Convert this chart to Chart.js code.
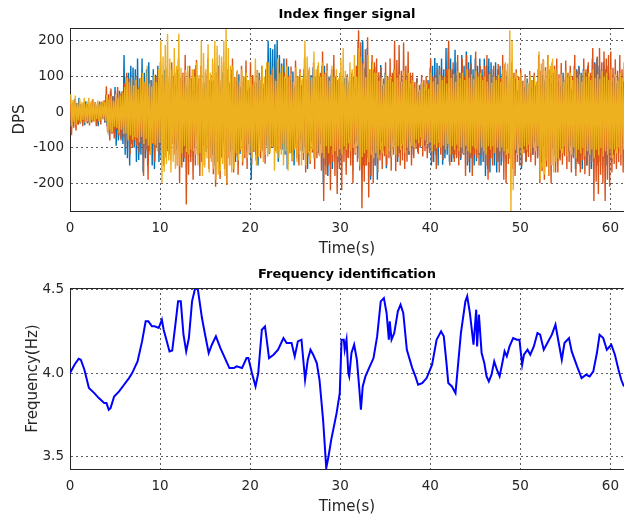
<!DOCTYPE html>
<html>
<head>
<meta charset="utf-8">
<script src="https://cdn.jsdelivr.net/npm/chart.js@4/dist/chart.umd.min.js"></script>
<style>
  html, body { margin: 0; padding: 0; background: #fff; overflow: hidden; }
  #wrap { position: relative; width: 628px; height: 521px; }
  #topBox { position: absolute; left: 0; top: 0; width: 628px; height: 260px; }
  #bottomBox { position: absolute; left: 0; top: 260px; width: 628px; height: 261px; }
</style>
</head>
<body>
<div id="wrap">
  <div id="topBox"><canvas id="signalChart"></canvas></div>
  <div id="bottomBox"><canvas id="freqChart"></canvas></div>
</div>
<script>
// --- data ---
// gyro signal samples, one every 0.125 s (peaks of each swing)
const sampleStep = 0.125;
// the three channels are sampled slightly out of step
const blueStart = 0;
const orangeStart = 0.04;
const yellowStart = 0.08;

const blueSignal = [
  28, -42, 20, -30, 36, -20, 25, -34, 40, -33, 22, -26, 18, -37, 30, -24,
  22, -30, 16, -26, 34, -26, 20, -18, 15, -40, 26, -22, 28, -18, 24, -30,
  48, -40, 35, -66, 60, -35, 44, -58, 70, -95, 38, -80, 60, -74, 55, -90,
  160, -120, 100, -130, 110, -150, 130, -90, 125, -100, 120, -140, 150, -135, 95, -120,
  150, -170, 110, -130, 120, -150, 140, -110, 90, -150, 120, -160, 105, -100, 130, -140,
  95, -130, 70, -90, 118, -64, 85, -110, 78, -120, 60, -80, 102, -90, 75, -105,
  120, -84, 66, -110, 90, -140, 98, -102, 70, -85, 74, -125, 95, -70, 60, -100,
  132, -66, 80, -110, 104, -140, 65, -95, 80, -112, 100, -70, 56, -96, 85, -120,
  90, -150, 110, -78, 130, -95, 70, -128, 112, -85, 64, -102, 95, -75, 80, -110,
  120, -90, 72, -140, 85, -105, 106, -118, 70, -80, 84, -72, 95, -110, 60, -90,
  68, -190, 100, -96, 75, -120, 82, -150, 110, -70, 90, -100, 65, -85, 120, -95,
  200, -118, 180, -90, 176, -98, 190, -110, 202, -140, 160, -85, 136, -106, 150, -120,
  96, -160, 128, -74, 90, -115, 114, -150, 70, -100, 85, -122, 105, -80, 75, -110,
  120, -100, 88, -160, 70, -110, 104, -82, 126, -130, 95, -75, 80, -115, 100, -90,
  130, -200, 130, -150, 110, -180, 100, -146, 104, -160, 120, -110, 100, -125, 90, -140,
  110, -140, 72, -104, 95, -80, 96, -128, 84, -76, 70, -110, 100, -90, 65, -85,
  198, -130, 150, -120, 200, -150, 124, -150, 180, -130, 110, -190, 140, -110, 120, -150,
  128, -190, 96, -120, 132, -84, 75, -110, 110, -158, 90, -100, 70, -125, 95, -80,
  120, -96, 74, -140, 108, -116, 85, -90, 92, -80, 70, -105, 100, -120, 65, -85,
  100, -120, 66, -88, 94, -112, 58, -100, 80, -75, 70, -95, 60, -85, 90, -100,
  124, -150, 130, -140, 152, -120, 138, -150, 130, -100, 150, -148, 120, -130, 180, -120,
  180, -140, 150, -140, 120, -130, 175, -120, 140, -126, 110, -135, 160, -115, 130, -120,
  170, -150, 140, -170, 160, -130, 120, -150, 150, -138, 130, -120, 150, -150, 120, -140,
  150, -180, 130, -160, 150, -170, 140, -130, 120, -150, 140, -170, 120, -140, 130, -150,
  108, -140, 84, -116, 100, -96, 76, -132, 90, -80, 70, -105, 95, -115, 60, -90,
  98, -160, 86, -104, 70, -140, 94, -112, 80, -90, 65, -120, 100, -85, 75, -95,
  120, -124, 78, -140, 104, -96, 88, -130, 70, -85, 95, -110, 80, -100, 110, -120,
  118, -96, 84, -130, 72, -104, 110, -118, 90, -80, 75, -110, 100, -95, 65, -125,
  130, -160, 120, -140, 130, -150, 110, -160, 120, -130, 110, -150, 130, -120, 100, -160,
  150, -160, 140, -130, 150, -150, 130, -140, 120, -150, 140, -130, 120, -150, 130, -120,
  110, -140, 86, -120, 96, -108, 80, -95, 100, -115, 70, -90, 85
];

const orangeSignal = [
  38, -65, 26, -44, 34, -52, 20, -36, 30, -28, 22, -40, 26, -30, 18, -32,
  30, -38, 24, -30, 36, -24, 28, -40, 22, -26, 30, -35, 25, -20, 33, -28,
  72, -56, 50, -80, 66, -62, 44, -74, 60, -48, 70, -66, 52, -80, 58, -70,
  80, -100, 110, -70, 95, -120, 75, -100, 90, -80, 100, -95, 70, -115, 85, -90,
  100, -180, 80, -110, 95, -190, 70, -120, 90, -90, 80, -140, 100, -100, 75, -120,
  140, -112, 104, -150, 86, -128, 122, -98, 100, -135, 140, -90, 80, -120, 110, -150,
  150, -200, 96, -156, 110, -130, 160, -260, 112, -176, 130, -140, 90, -190, 120, -150,
  146, -120, 94, -180, 130, -140, 82, -150, 110, -100, 150, -160, 90, -130, 105, -175,
  136, -210, 104, -140, 126, -188, 90, -128, 140, -160, 100, -205, 120, -130, 85, -150,
  150, -170, 98, -124, 114, -176, 80, -110, 130, -150, 100, -130, 145, -160, 90, -120,
  140, -148, 104, -112, 86, -136, 118, -92, 100, -130, 130, -110, 80, -145, 120, -100,
  130, -110, 100, -98, 120, -100, 94, -84, 140, -110, 100, -105, 120, -90, 110, -100,
  150, -148, 102, -116, 128, -138, 84, -104, 145, -130, 100, -150, 120, -110, 90, -135,
  150, -170, 94, -124, 118, -146, 88, -114, 140, -160, 100, -130, 130, -120, 110, -165,
  170, -250, 110, -176, 136, -150, 96, -220, 120, -140, 160, -180, 100, -230, 90, -160,
  100, -220, 84, -140, 76, -176, 106, -130, 90, -150, 110, -200, 80, -120, 130, -140,
  230, -164, 196, -270, 140, -196, 176, -150, 210, -240, 120, -180, 160, -200, 140, -150,
  150, -170, 112, -136, 126, -160, 94, -124, 140, -150, 100, -130, 150, -165, 110, -120,
  200, -166, 146, -126, 188, -150, 116, -136, 195, -160, 130, -140, 170, -120, 110, -150,
  110, -130, 84, -104, 96, -118, 76, -96, 105, -125, 90, -110, 100, -130, 80, -115,
  150, -140, 100, -110, 104, -160, 120, -100, 125, -120, 100, -135, 90, -115, 120, -100,
  200, -150, 120, -120, 140, -140, 110, -130, 160, -150, 110, -130, 150, -120, 100, -180,
  160, -140, 120, -130, 136, -180, 100, -120, 170, -130, 110, -150, 130, -120, 100, -140,
  130, -150, 160, -190, 110, -130, 120, -150, 130, -115, 100, -140, 135, -170, 95, -130,
  160, -190, 134, -200, 116, -146, 96, -126, 140, -160, 110, -180, 120, -140, 100, -150,
  120, -150, 88, -116, 106, -138, 78, -126, 115, -140, 90, -120, 110, -150, 85, -130,
  160, -200, 116, -166, 148, -190, 126, -154, 160, -180, 120, -200, 140, -150, 130, -170,
  150, -170, 106, -136, 138, -148, 98, -124, 145, -160, 110, -140, 130, -170, 100, -130,
  160, -180, 116, -146, 126, -170, 108, -136, 150, -175, 120, -150, 140, -180, 110, -140,
  180, -250, 136, -196, 156, -230, 180, -176, 140, -200, 170, -250, 150, -190, 160, -210,
  170, -170, 124, -146, 148, -160, 116, -140, 160, -150, 120, -170, 140
];

const yellowSignal = [
  50, -40, 34, -28, 46, -36, 26, -24, 38, -30, 28, -22, 40, -32, 24, -26,
  40, -30, 30, -22, 36, -28, 26, -20, 32, -26, 22, -24, 30, -20, 28, -25,
  48, -60, 36, -50, 44, -56, 32, -42, 50, -45, 40, -58, 46, -50, 55, -62,
  70, -60, 95, -80, 84, -66, 100, -78, 75, -70, 90, -72, 64, -85, 96, -70,
  110, -90, 86, -76, 130, -95, 80, -120, 72, -88, 105, -92, 84, -110, 120, -86,
  200, -200, 156, -168, 188, -146, 220, -136, 150, -170, 120, -140, 180, -160, 130, -150,
  220, -150, 124, -116, 106, -96, 118, -112, 130, -120, 95, -105, 120, -110, 100, -120,
  140, -150, 104, -116, 200, -180, 166, -156, 120, -130, 190, -170, 110, -140, 150, -160,
  200, -190, 186, -176, 160, -166, 156, -146, 200, -180, 236, -200, 180, -150, 130, -170,
  130, -160, 96, -116, 118, -136, 88, -106, 120, -140, 100, -120, 110, -130, 90, -115,
  100, -130, 78, -106, 150, -150, 116, -126, 90, -110, 130, -140, 100, -120, 140, -125,
  140, -116, 106, -96, 128, -165, 88, -116, 150, -130, 110, -120, 130, -150, 100, -110,
  130, -165, 98, -116, 106, -136, 86, -106, 125, -140, 100, -120, 110, -150, 95, -115,
  200, -150, 156, -116, 126, -136, 96, -106, 170, -130, 120, -110, 140, -125, 100, -115,
  140, -130, 106, -96, 116, -116, 88, -96, 130, -120, 100, -110, 120, -125, 95, -105,
  150, -120, 180, -96, 116, -106, 98, -88, 140, -110, 120, -100, 160, -115, 100, -95,
  180, -150, 156, -126, 136, -116, 98, -106, 160, -140, 120, -120, 140, -130, 110, -115,
  110, -130, 88, -106, 96, -116, 78, -96, 105, -120, 90, -110, 100, -125, 85, -100,
  120, -120, 96, -96, 106, -106, 86, -92, 115, -115, 90, -100, 110, -110, 80, -95,
  90, -100, 68, -78, 82, -88, 62, -72, 85, -95, 70, -80, 80, -90, 65, -85,
  110, -110, 86, -92, 96, -102, 78, -86, 105, -100, 90, -95, 100, -105, 80, -90,
  120, -120, 96, -96, 106, -106, 86, -92, 115, -110, 95, -100, 110, -115, 90, -95,
  120, -110, 96, -116, 106, -96, 92, -102, 115, -105, 100, -115, 110, -100, 90, -110,
  100, -120, 86, -96, 106, -106, 82, -96, 100, -115, 90, -100, 105, -110, 85, -100,
  120, -110, 140, -120, 136, -116, 230, -278, 200, -220, 96, -106, 110, -120, 90, -100,
  110, -120, 86, -96, 96, -106, 82, -92, 105, -115, 90, -100, 100, -110, 85, -95,
  170, -190, 136, -156, 146, -176, 116, -136, 160, -180, 130, -150, 150, -170, 120, -140,
  120, -130, 96, -106, 106, -116, 86, -96, 115, -125, 100, -110, 110, -120, 90, -100,
  120, -130, 96, -106, 106, -116, 86, -102, 115, -125, 100, -110, 110, -120, 90, -105,
  120, -130, 96, -106, 106, -122, 92, -102, 115, -125, 100, -110, 110, -120, 90, -105,
  120, -130, 96, -106, 106, -116, 88, -100, 110, -120, 95, -105, 100
];

// identified tremor frequency
const freqTime = [
  0, 0.5, 0.96, 1.2, 1.6, 2.1, 2.7, 3.2, 3.8, 4.05, 4.3, 4.5, 4.9, 5.45, 6.0, 6.55, 6.9, 7.5, 8.0, 8.4,
  8.7, 9.1, 9.4, 9.85, 10.2, 10.4, 10.7, 11.05, 11.35, 11.7, 12.0, 12.3, 12.6, 12.9, 13.2, 13.55, 13.9, 14.2, 14.65, 15.0,
  15.4, 15.75, 16.2, 16.7, 17.2, 17.7, 18.2, 18.5, 19.1, 19.6, 19.8, 20.2, 20.6, 20.9, 21.3, 21.65, 22.1, 22.6, 23.1, 23.7,
  24.05, 24.6, 24.95, 25.3, 25.7, 26.1, 26.4, 26.7, 27.0, 27.4, 27.7, 28.1, 28.45, 28.7, 29.0, 29.6, 29.95, 30.15, 30.4, 30.5,
  30.7, 30.9, 31.0, 31.25, 31.55, 31.85, 32.1, 32.3, 32.5, 32.8, 33.2, 33.7, 34.1, 34.5, 34.85, 35.15, 35.4, 35.5, 35.7, 36.0,
  36.4, 36.7, 37.0, 37.4, 38.0, 38.35, 38.65, 39.1, 39.6, 40.2, 40.7, 41.2, 41.5, 41.8, 42.0, 42.4, 42.8, 43.0, 43.4, 43.9,
  44.1, 44.4, 44.8, 45.1, 45.2, 45.4, 45.7, 46.0, 46.25, 46.5, 46.8, 47.1, 47.4, 47.7, 48.0, 48.25, 48.5, 48.8, 49.2, 49.6,
  49.9, 50.2, 50.4, 50.8, 51.1, 51.5, 51.9, 52.2, 52.6, 53.0, 53.5, 53.9, 54.3, 54.6, 54.9, 55.4, 55.7, 56.3, 56.8, 57.3,
  57.7, 58.1, 58.5, 58.8, 59.2, 59.6, 60.1, 60.5, 60.9, 61.2, 61.5
];
const freqValues = [
  4.00, 4.05, 4.086, 4.08, 4.02, 3.91, 3.88, 3.85, 3.82, 3.82, 3.78, 3.79, 3.86, 3.89, 3.93, 3.97, 4.00, 4.07, 4.19, 4.31,
  4.31, 4.28, 4.28, 4.27, 4.32, 4.26, 4.20, 4.13, 4.135, 4.29, 4.43, 4.43, 4.23, 4.13, 4.21, 4.43, 4.51, 4.50, 4.33, 4.23,
  4.12, 4.17, 4.22, 4.15, 4.09, 4.03, 4.03, 4.04, 4.03, 4.09, 4.09, 4.00, 3.92, 4.00, 4.26, 4.28, 4.09, 4.11, 4.14, 4.21,
  4.18, 4.18, 4.10, 4.19, 4.20, 3.96, 4.08, 4.14, 4.11, 4.06, 3.96, 3.72, 3.43, 3.50, 3.60, 3.76, 3.88, 4.20, 4.20, 4.14,
  4.20, 4.00, 3.98, 4.12, 4.17, 4.08, 3.92, 3.78, 3.92, 3.98, 4.03, 4.09, 4.22, 4.43, 4.45, 4.36, 4.20, 4.31, 4.20, 4.24,
  4.37, 4.41, 4.36, 4.14, 4.03, 3.98, 3.93, 3.94, 3.97, 4.05, 4.20, 4.25, 4.22, 4.06, 3.94, 3.92, 3.88, 4.00, 4.24, 4.43,
  4.46, 4.36, 4.17, 4.38, 4.16, 4.35, 4.12, 4.06, 3.98, 3.95, 3.99, 4.07, 4.02, 3.98, 4.06, 4.13, 4.10, 4.16, 4.21, 4.20,
  4.20, 4.05, 4.11, 4.14, 4.11, 4.16, 4.24, 4.23, 4.14, 4.18, 4.23, 4.29, 4.17, 4.08, 4.18, 4.21, 4.13, 4.04, 3.97, 3.99,
  3.98, 4.01, 4.12, 4.23, 4.21, 4.14, 4.17, 4.11, 4.02, 3.96, 3.92
];

// axis ticks
const timeTicks = [0, 10, 20, 30, 40, 50, 60];
const dpsTicks = [-200, -100, 0, 100, 200];
const freqTicks = [3.5, 4, 4.5];

// MATLAB default colours
const seriesColors = ['#0072BD', '#D95319', '#EDB120'];
const axisColor = '#262626';
const gridColor = 'rgba(38,38,38,0.75)';
const FONT = '"DejaVu Sans", sans-serif';

// turn a value array into {x, y} points on the sample grid
function toPoints(values, start) {
  return values.map((v, i) => ({ x: start + i * sampleStep, y: v }));
}

// draws the title, axis labels and the top edge of the box
function framePlugin(title, yLabel, yLabelX) {
  return {
    id: 'frame',
    afterDatasetsDraw(chart) {
      const ctx = chart.ctx;
      const area = chart.chartArea;
      ctx.save();
      ctx.strokeStyle = axisColor;
      ctx.lineWidth = 1;
      ctx.beginPath();
      ctx.moveTo(area.left, area.top + 0.5);
      ctx.lineTo(area.right, area.top + 0.5);
      ctx.stroke();
      ctx.restore();
    },
    afterDraw(chart) {
      const ctx = chart.ctx;
      const area = chart.chartArea;
      ctx.save();
      ctx.fillStyle = '#000';
      ctx.textAlign = 'center';
      ctx.textBaseline = 'middle';
      ctx.font = 'bold 13px ' + FONT;
      ctx.fillText(title, (area.left + area.right) / 2, 15);

      ctx.fillStyle = axisColor;
      ctx.font = '15px ' + FONT;
      ctx.fillText('Time(s)', (area.left + area.right) / 2, area.bottom + 38);

      ctx.translate(yLabelX, (area.top + area.bottom) / 2);
      ctx.rotate(-Math.PI / 2);
      ctx.fillText(yLabel, 0, 0);
      ctx.restore();
    }
  };
}

function axisOptions(yMin, yMax, yTicks, xHeight) {
  return {
    x: {
      type: 'linear',
      min: 0,
      max: 61.5,
      afterBuildTicks: (scale) => { scale.ticks = timeTicks.map(v => ({ value: v })); },
      afterFit: (scale) => { scale.height = xHeight; },
      grid: { color: gridColor, lineWidth: 1, drawTicks: false },
      border: { display: true, color: axisColor, width: 1, dash: [2, 3] },
      ticks: { color: axisColor, font: { family: FONT, size: 13.5 }, padding: 9, maxRotation: 0 }
    },
    y: {
      type: 'linear',
      min: yMin,
      max: yMax,
      afterBuildTicks: (scale) => { scale.ticks = yTicks.map(v => ({ value: v })); },
      afterFit: (scale) => { scale.width = 70; },
      grid: { color: gridColor, lineWidth: 1, drawTicks: false },
      border: { display: true, color: axisColor, width: 1, dash: [2, 3] },
      ticks: { color: axisColor, font: { family: FONT, size: 13.5 }, padding: 6 }
    }
  };
}

function baseOptions(scales) {
  return {
    responsive: false,
    animation: false,
    devicePixelRatio: 1,
    layout: { padding: { top: 28, left: 0, right: 0, bottom: 0 } },
    plugins: { legend: { display: false }, tooltip: { enabled: false } },
    elements: { point: { radius: 0 }, line: { tension: 0 } },
    scales: scales
  };
}

window.addEventListener('load', () => {
  // --- top: raw signal ---
  const topCanvas = document.getElementById('signalChart');
  topCanvas.width = 628;
  topCanvas.height = 260;
  const signals = [
    { vals: blueSignal, start: blueStart },
    { vals: orangeSignal, start: orangeStart },
    { vals: yellowSignal, start: yellowStart }
  ];
  new Chart(topCanvas.getContext('2d'), {
    type: 'line',
    data: {
      datasets: signals.map((s, i) => ({
        data: toPoints(s.vals, s.start),
        borderColor: seriesColors[i],
        borderWidth: 1.4,
        order: 3 - i   // yellow drawn last, on top
      }))
    },
    options: baseOptions(axisOptions(-278, 236, dpsTicks, 49)),
    plugins: [framePlugin('Index finger signal', 'DPS', 20)]
  });

  // --- bottom: identified frequency ---
  const bottomCanvas = document.getElementById('freqChart');
  bottomCanvas.width = 628;
  bottomCanvas.height = 261;
  new Chart(bottomCanvas.getContext('2d'), {
    type: 'line',
    data: {
      datasets: [{
        data: freqTime.map((t, i) => ({ x: t, y: freqValues[i] })),
        borderColor: '#0000FF',
        borderWidth: 2
      }]
    },
    options: baseOptions(axisOptions(3.425, 4.51, freqTicks, 52)),
    plugins: [framePlugin('Frequency identification', 'Frequency(Hz)', 33)]
  });
});
</script>
</body>
</html>
